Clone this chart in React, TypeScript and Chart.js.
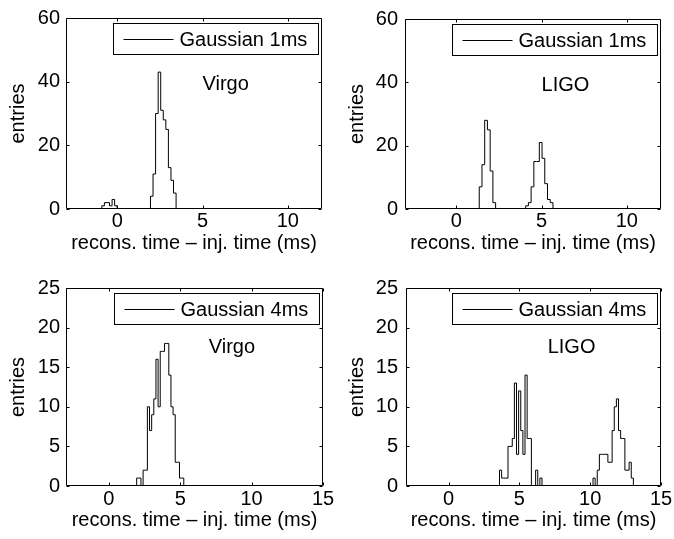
import React, { useEffect, useRef } from "react";
import { Chart, registerables } from "chart.js";

Chart.register(...registerables);

const FONT_FAMILY = '"Liberation Sans", Arial, Helvetica, sans-serif';

// ---- Data (histogram bin counts) ----
const virgo1msStart = -0.9;
const virgo1msWidth = 0.15;
const virgo1msCounts = [1, 2, 2, 1, 3, 1, 0, 0, 0, 0, 0, 0, 0, 0, 0, 0, 0, 0, 0, 4, 11, 30, 43, 31, 28, 25, 13, 9, 5];

const ligo1msStart = 1.35;
const ligo1msWidth = 0.16;
const ligo1msCounts = [7, 14, 28, 25, 12, 2, 0, 0, 0, 0, 0, 0, 0, 0, 0, 0, 0, 1, 2, 7, 15, 15, 21, 16, 8, 3, 2];

const virgo4msStart = 1.95;
const virgo4msWidth = 0.15;
const virgo4msCounts = [1, 1, 0, 2, 2, 10, 7, 9, 11, 16, 10, 17, 17, 18, 18, 14, 10, 9, 3, 3, 1, 1];

const ligo4msStart = 3.6;
const ligo4msWidth = 0.15;
const ligo4msCounts = [
  2, 1, 1, 1, 5, 5, 6, 13, 4, 12, 7, 4, 14, 6, 6, 0, 0, 2, 0, 1,
  0, 0, 0, 0, 0, 0, 0, 0, 0, 0, 0, 0, 0, 0, 0, 0, 0, 0, 0, 0, 0, 0, 0, 0,
  1, 0, 2, 4, 4, 4, 4, 3, 3, 7, 10, 11, 7, 6, 6, 2, 2, 3, 1,
];

const xTicksTop = [0, 5, 10];
const yTicksTop = [0, 20, 40, 60];
const xTicksBottom = [0, 5, 10, 15];
const yTicksBottom = [0, 5, 10, 15, 20, 25];

const legendTop = "Gaussian 1ms";
const legendBottom = "Gaussian 4ms";
const xTitle = "recons. time \u2013 inj. time (ms)";
const yTitle = "entries";

type Panel = {
  left: number;
  top: number;
  w: number;
  h: number;
  plotLeft: number;
  padTop: number;
  padRight: number;
  xAxisH: number;
  yTitlePad: number;
  xTitlePad: number;
  xTickPad: number;
  yTickPad: number;
  xMin: number;
  xMax: number;
  yMax: number;
  xTicks: number[];
  yTicks: number[];
  start: number;
  width: number;
  counts: number[];
  legend: string;
  label: string;
  labelX: number;
  labelY: number;
};

function buildPoints(start: number, width: number, counts: number[]) {
  const pts: { x: number; y: number }[] = [{ x: start, y: 0 }];
  counts.forEach((c, i) => pts.push({ x: start + i * width, y: c }));
  pts.push({ x: start + counts.length * width, y: 0 });
  return pts;
}

const panels: Panel[] = [
  {
    left: 0, top: 0, w: 337, h: 260, plotLeft: 66, padTop: 14, padRight: 15, xAxisH: 51,
    yTitlePad: 6, xTitlePad: 5, xTickPad: 0, yTickPad: 6,
    xMin: -3, xMax: 12, yMax: 60, xTicks: xTicksTop, yTicks: yTicksTop,
    start: virgo1msStart, width: virgo1msWidth, counts: virgo1msCounts, legend: legendTop,
    label: "Virgo", labelX: 5, labelY: 39,
  },
  {
    left: 337, top: 0, w: 337, h: 260, plotLeft: 68, padTop: 14, padRight: 13, xAxisH: 51,
    yTitlePad: 8, xTitlePad: 5, xTickPad: 0, yTickPad: 7,
    xMin: -3, xMax: 12, yMax: 60, xTicks: xTicksTop, yTicks: yTicksTop,
    start: ligo1msStart, width: ligo1msWidth, counts: ligo1msCounts, legend: legendTop,
    label: "LIGO", labelX: 5, labelY: 39,
  },
  {
    left: 0, top: 260, w: 337, h: 279, plotLeft: 66, padTop: 28, padRight: 14, xAxisH: 53,
    yTitlePad: 6, xTitlePad: 7, xTickPad: 1, yTickPad: 6,
    xMin: -3, xMax: 15, yMax: 25, xTicks: xTicksBottom, yTicks: yTicksBottom,
    start: virgo4msStart, width: virgo4msWidth, counts: virgo4msCounts, legend: legendBottom,
    label: "Virgo", labelX: 7, labelY: 17.5,
  },
  {
    left: 337, top: 260, w: 337, h: 279, plotLeft: 69, padTop: 28, padRight: 13, xAxisH: 53,
    yTitlePad: 8, xTitlePad: 7, xTickPad: 1, yTickPad: 8,
    xMin: -3, xMax: 15, yMax: 25, xTicks: xTicksBottom, yTicks: yTicksBottom,
    start: ligo4msStart, width: ligo4msWidth, counts: ligo4msCounts, legend: legendBottom,
    label: "LIGO", labelX: 7, labelY: 17.5,
  },
];

function makeFramePlugin(p: Panel) {
  return {
    id: "matlabFrame",
    afterDraw(chart: any) {
      const { ctx, chartArea } = chart;
      const xs = chart.scales.x;
      const ys = chart.scales.y;
      const L = Math.round(chartArea.left) + 0.5;
      const R = Math.round(chartArea.right) - 0.5;
      const T = Math.round(chartArea.top) + 0.5;
      const B = Math.round(chartArea.bottom) - 0.5;
      ctx.save();
      ctx.strokeStyle = "#000";
      ctx.lineWidth = 1;
      ctx.beginPath();
      ctx.rect(L, T, R - L, B - T);
      ctx.stroke();
      const tl = 3;
      ctx.beginPath();
      p.xTicks.forEach((v) => {
        const px = Math.round(xs.getPixelForValue(v)) + 0.5;
        ctx.moveTo(px, B);
        ctx.lineTo(px, B - tl);
        ctx.moveTo(px, T);
        ctx.lineTo(px, T + tl);
      });
      p.yTicks.forEach((v) => {
        const py = Math.round(ys.getPixelForValue(v)) + 0.5;
        ctx.moveTo(L, py);
        ctx.lineTo(L + tl, py);
        ctx.moveTo(R, py);
        ctx.lineTo(R - tl, py);
      });
      ctx.stroke();

      // legend box
      const bw = 205;
      const bh = 31;
      const bx = Math.round(chartArea.right - 4 - bw) + 0.5;
      const by = Math.round(chartArea.top + 5) + 0.5;
      ctx.fillStyle = "#fff";
      ctx.fillRect(bx, by, bw, bh);
      ctx.strokeRect(bx, by, bw, bh);
      const my = by + bh / 2;
      ctx.beginPath();
      ctx.moveTo(bx + 10, Math.round(my) + 0.5);
      ctx.lineTo(bx + 60, Math.round(my) + 0.5);
      ctx.stroke();
      ctx.fillStyle = "#000";
      ctx.font = `20px ${FONT_FAMILY}`;
      ctx.textBaseline = "middle";
      ctx.textAlign = "left";
      const lbl = chart.data.datasets[0].label as string;
      ctx.fillText(lbl, bx + 66, my + 1);

      // detector label
      ctx.fillText(p.label, xs.getPixelForValue(p.labelX), ys.getPixelForValue(p.labelY));
      ctx.restore();
    },
  };
}

function PanelChart({ p }: { p: Panel }) {
  const ref = useRef<HTMLCanvasElement | null>(null);
  useEffect(() => {
    if (!ref.current) return;
    const font = { family: FONT_FAMILY, size: 20 };
    const chart = new Chart(ref.current, {
      type: "line",
      data: {
        datasets: [
          {
            label: p.legend,
            data: buildPoints(p.start, p.width, p.counts),
            borderColor: "#000",
            borderWidth: 1,
            pointRadius: 0,
            stepped: true,
            fill: false,
            tension: 0,
          } as any,
        ],
      },
      options: {
        responsive: false,
        animation: false,
        devicePixelRatio: 1,
        layout: { padding: { top: p.padTop, right: p.padRight, left: 0, bottom: 0 } },
        plugins: {
          legend: { display: false },
          tooltip: { enabled: false },
          title: { display: false },
        },
        scales: {
          x: {
            type: "linear",
            min: p.xMin,
            max: p.xMax,
            afterBuildTicks: (s: any) => {
              s.ticks = p.xTicks.map((v) => ({ value: v }));
            },
            afterFit: (s: any) => {
              s.height = p.xAxisH;
            },
            grid: { display: false, drawTicks: false, tickLength: 0 },
            border: { display: false },
            ticks: { font, color: "#000", padding: p.xTickPad, maxRotation: 0, autoSkip: false },
            title: {
              display: true,
              text: xTitle,
              font,
              color: "#000",
              padding: { top: 0, bottom: p.xTitlePad },
            },
          },
          y: {
            type: "linear",
            min: 0,
            max: p.yMax,
            afterBuildTicks: (s: any) => {
              s.ticks = p.yTicks.map((v) => ({ value: v }));
            },
            afterFit: (s: any) => {
              s.width = p.plotLeft;
            },
            grid: { display: false, drawTicks: false, tickLength: 0 },
            border: { display: false },
            ticks: { font, color: "#000", padding: p.yTickPad, autoSkip: false },
            title: {
              display: true,
              text: yTitle,
              font,
              color: "#000",
              padding: { top: p.yTitlePad, bottom: 0 },
            },
          },
        },
      } as any,
      plugins: [makeFramePlugin(p)],
    });
    return () => chart.destroy();
  }, [p]);
  return (
    <canvas
      ref={ref}
      width={p.w}
      height={p.h}
      style={{ position: "absolute", left: p.left, top: p.top, width: p.w, height: p.h }}
    />
  );
}

export default function App() {
  return (
    <div
      style={{
        position: "absolute",
        left: 0,
        top: 0,
        width: 674,
        height: 539,
        background: "#fff",
        overflow: "hidden",
      }}
    >
      {panels.map((p, i) => (
        <PanelChart key={i} p={p} />
      ))}
    </div>
  );
}
